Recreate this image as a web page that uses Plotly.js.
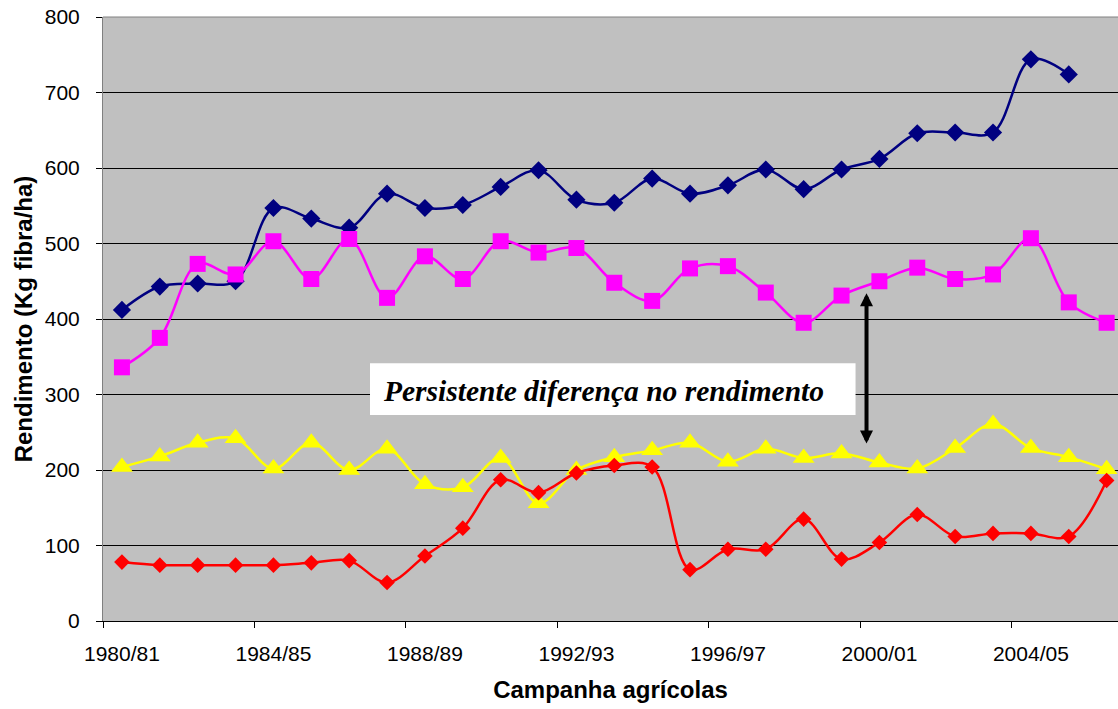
<!DOCTYPE html>
<html>
<head>
<meta charset="utf-8">
<script src="https://cdn.plot.ly/plotly-3.0.1.min.js"></script>
<style>
  html, body { margin: 0; padding: 0; background: #ffffff; overflow: hidden; }
  #chart { width: 1118px; height: 709px; }
</style>
</head>
<body>
<div id="chart"></div>
<script>
// ---- Data ----
const categories = ["1980/81","1981/82","1982/83","1983/84","1984/85","1985/86","1986/87","1987/88","1988/89","1989/90",
                    "1990/91","1991/92","1992/93","1993/94","1994/95","1995/96","1996/97","1997/98","1998/99","1999/00",
                    "2000/01","2001/02","2002/03","2003/04","2004/05","2005/06","2006/07"];
const serieAzul = [412,443,447,450,547,533,521,566,547,551,575,597,558,554,586,566,577,598,572,598,612,646,647,647,744,724];
const serieMagenta = [336,375,473,459,503,453,506,428,483,453,503,488,494,448,424,467,470,435,395,431,450,468,453,459,507,422,395];
const serieAmarela = [204,218,236,242,202,236,200,228,181,177,216,156,200,217,226,236,211,228,216,222,210,202,229,261,229,217,201];
const serieVermelha = [78,74,74,74,74,77,80,51,86,123,187,170,196,206,204,68,95,95,135,82,104,141,112,116,116,112,186];
const tickLabelStep = 4;
const annotationText = "Persistente diferença no rendimento";
const xTitle = "Campanha agrícolas";
const yTitle = "Rendimento (Kg fibra/ha)";

// ---- Build ----
const idx = (arr) => arr.map((_, i) => i);
const labelVals = categories.map((_, i) => i).filter(i => i % tickLabelStep === 0);
const labelText = labelVals.map(i => categories[i]);
const boundaryVals = labelVals.map(i => i - 0.5);

function series(name, values, color, symbol, size) {
  return {
    type: 'scatter', mode: 'lines+markers', name: name,
    x: idx(values), y: values,
    line: { color: color, width: 2.5, shape: 'spline', smoothing: 1 },
    marker: { color: color, symbol: symbol, size: size, line: { width: 0 } },
    hoverinfo: 'x+y'
  };
}

const traces = [
  series('Série 1', serieAzul, '#000080', 'diamond', 14),
  series('Série 2', serieMagenta, '#FF00FF', 'square', 16),
  series('Série 3', serieAmarela, '#FFFF00', 'triangle-up', 19),
  series('Série 4', serieVermelha, '#FF0000', 'diamond', 12)
];

const font = 'Liberation Sans, Arial, sans-serif';

const layout = {
  width: 1118, height: 709,
  margin: { l: 103, r: 0, t: 17, b: 88, pad: 0 },
  paper_bgcolor: '#ffffff',
  plot_bgcolor: '#C0C0C0',
  showlegend: false,
  font: { family: font, color: '#000000', size: 21 },
  xaxis: {
    type: 'linear',
    range: [-0.5, 26.3],
    tickmode: 'array', tickvals: labelVals, ticktext: labelText,
    ticks: '', showgrid: false, zeroline: false,
    showline: true, linecolor: '#000000', linewidth: 1,
    tickfont: { family: font, size: 21, color: '#000000' },
    ticklabelstandoff: 14,
    minor: { tickmode: 'array', tickvals: boundaryVals, ticks: 'outside', ticklen: 6, tickcolor: '#000000', tickwidth: 1, showgrid: false },
    title: { text: '<b>' + xTitle + '</b>', font: { family: font, size: 24, color: '#000000' }, standoff: 16 },
    automargin: false
  },
  yaxis: {
    range: [0, 800], dtick: 100, tick0: 0,
    ticks: 'outside', ticklen: 6, tickcolor: '#000000', tickwidth: 1,
    showgrid: true, gridcolor: '#000000', gridwidth: 1,
    zeroline: false,
    showline: true, linecolor: '#808080', linewidth: 1,
    tickfont: { family: font, size: 21, color: '#000000' },
    ticklabelstandoff: 12,
    title: { text: '<b>' + yTitle + '</b>', font: { family: font, size: 24, color: '#000000' }, standoff: 5 },
    automargin: false
  },
  shapes: [
    { type: 'line', xref: 'paper', yref: 'paper', x0: 0, x1: 1, y0: 1, y1: 1,
      line: { color: '#808080', width: 1 }, layer: 'above' },
    { type: 'rect', xref: 'x', yref: 'y', x0: 6.55, x1: 19.37, y0: 273, y1: 341.5,
      fillcolor: '#ffffff', line: { width: 0 }, layer: 'above' }
  ],
  annotations: [
    { xref: 'x', yref: 'y', x: 6.85, y: 305, xanchor: 'left', yanchor: 'middle',
      text: '<b><i>' + annotationText + '</i></b>', showarrow: false,
      font: { family: 'Liberation Serif, Times New Roman, serif', size: 29.5, color: '#000000' } },
    { xref: 'x', yref: 'y', axref: 'x', ayref: 'y', x: 19.66, y: 235, ax: 19.66, ay: 436,
      text: '', showarrow: true, arrowside: 'end+start', arrowhead: 2, startarrowhead: 2,
      arrowsize: 0.65, startarrowsize: 0.65, arrowwidth: 4, arrowcolor: '#000000', standoff: 0, startstandoff: 0 }
  ]
};

Plotly.newPlot('chart', traces, layout, { displayModeBar: false, staticPlot: true });
</script>
</body>
</html>
